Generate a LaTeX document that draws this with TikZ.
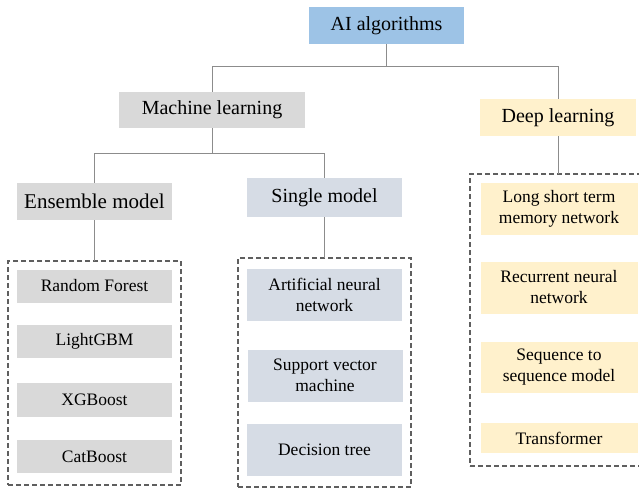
\documentclass[tikz,border=0pt]{standalone}
\usepackage{fontspec}
\setmainfont{Liberation Serif}
\newfontfamily\leaffont{Liberation Serif}
\usepackage{xcolor}
\usetikzlibrary{positioning,calc}

\definecolor{aiblue}{RGB}{157,195,230}
\definecolor{mlgray}{RGB}{217,217,217}
\definecolor{smblue}{RGB}{214,220,229}
\definecolor{dlyellow}{RGB}{255,241,204}
\definecolor{linegray}{RGB}{140,140,140}
\definecolor{dashgray}{RGB}{95,95,95}

\begin{document}
\begin{tikzpicture}[
  x=1pt, y=-1pt,
  every node/.style={inner sep=0pt, outer sep=0pt},
  head/.style={minimum width=155pt, minimum height=37pt, align=center,
               font=\rmfamily\fontsize{20}{22}\selectfont},
  item/.style={minimum width=155pt, minimum height=33pt, align=center,
               font=\leaffont\fontsize{17.5}{21}\selectfont},
  twoline/.style={item, minimum height=52pt},
  grp/.style={draw=dashgray, line width=1.1pt, dash pattern=on 5pt off 3pt},
  conn/.style={draw=linegray, line width=1pt},
]
\clip (0,0) rectangle (639,488);

% =============================================================== top levels
\node[head, fill=aiblue] (ai) at (386.5,25.5) {AI algorithms};
\node[head, fill=mlgray, minimum width=186pt, minimum height=36pt] (ml) at (212,110) {Machine learning};
\node[head, fill=dlyellow, minimum width=156pt] (dl) at (558,117.5) {Deep learning};
\node[head, fill=mlgray, font=\rmfamily\fontsize{21}{23}\selectfont] (ens) at (94.5,201.5) {Ensemble model};
\node[head, fill=smblue, minimum height=39pt] (single) at (324.5,197.5) {Single model};

% --- dashed groups ---
\node[grp, minimum width=173pt, minimum height=224pt] (grpens) at (94.5,373) {};
\node[grp, minimum width=173pt, minimum height=229pt] (grpsingle) at (324.5,372.5) {};
\node[grp, minimum width=176pt, minimum height=292pt] (grpdl) at (558,320) {};

% =============================================================== leaves
\node[item, fill=mlgray] (rf) at (94.5,286) {Random Forest};
\node[item, fill=mlgray] (lgbm) at (94.5,341) {LightGBM};
\node[item, fill=mlgray, minimum height=34pt] (xgb) at (94.5,400) {XGBoost};
\node[item, fill=mlgray] (cat) at (94.5,456.5) {CatBoost};

\node[twoline, fill=smblue] (ann) at (324.5,295) {Artificial neural\\network};
\node[twoline, fill=smblue] (svm) at (325,375.5) {Support vector\\machine};
\node[twoline, fill=smblue] (dt) at (324.5,450) {Decision tree};

\node[twoline, fill=dlyellow, minimum width=157pt] (lstm) at (559,209) {Long short term\\memory network};
\node[twoline, fill=dlyellow, minimum width=157pt] (rnn) at (559,287.5) {Recurrent neural\\network};
\node[twoline, fill=dlyellow, minimum width=157pt, minimum height=51pt] (seq) at (559,367) {Sequence to\\sequence model};
\node[item, fill=dlyellow, minimum width=157pt, minimum height=30pt] (tf) at (559,438) {Transformer};

% =============================================================== connectors
\foreach \b in {ml, dl}
  \draw[conn] (ai.south) -- ++(0,22.5) -| (\b.north);
\foreach \b in {ens, single}
  \draw[conn] (ml.south) -- ++(0,25) -| (\b.north);
\foreach \a/\b in {ens/grpens, single/grpsingle, dl/grpdl}
  \draw[conn] (\a.south) -- (\a.south |- \b.north);

\end{tikzpicture}
\end{document}
